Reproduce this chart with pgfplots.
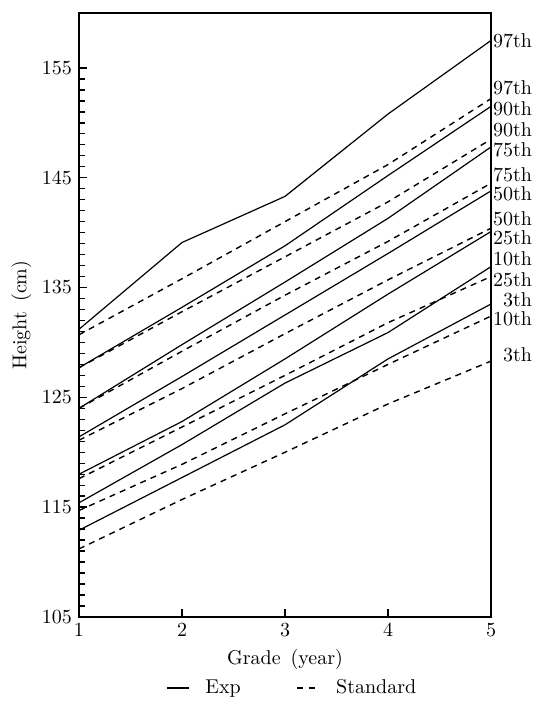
\documentclass[border=0pt]{standalone}
\usepackage{pgfplots}
\pgfplotsset{compat=1.18}

\pgfplotsset{
  exp/.style={black, line width=0.6pt, solid},
  std/.style={black, line width=0.7pt, dash pattern=on 3pt off 2.6pt},
}

\begin{document}
\begin{tikzpicture}
\useasboundingbox (-39.5pt,-42pt) rectangle (236pt,308.5pt);
\begin{axis}[
    width=206pt, height=302pt, scale only axis,
    xmin=1, xmax=5, ymin=105, ymax=160,
    xtick={1,2,3,4,5},
    ytick={105,115,125,135,145,155},
    minor y tick num=9,
    xtick pos=bottom, ytick pos=left,
    tick align=inside,
    major tick length=4pt, minor tick length=3pt,
    axis line style={line width=0.9pt},
    every tick/.style={black, line width=0.7pt},
    xlabel={Grade\enspace(year)},
    ylabel={Height\enspace(cm)},
    xlabel style={at={(axis description cs:0.5,-0.071)}, anchor=center},
    ylabel style={at={(axis description cs:-0.14,0.5)}, anchor=center},
    clip=false,
    legend columns=2,
    legend style={at={(axis description cs:0.52,-0.1175)}, anchor=center,
        draw=none, fill=none,
        /tikz/every even column/.append style={column sep=26pt}},
    legend image code/.code={\draw[#1] (0pt,0pt) -- (11pt,0pt); \path (17pt,0pt);},
]
% Exp (solid)
\addplot[exp] coordinates {(1,131.2) (2,139.1) (3,143.3) (4,150.8) (5,157.5)};
\addlegendentry{Exp}
% Standard (dashed)
\addplot[std] coordinates {(1,130.7) (2,135.8) (3,141.0) (4,146.2) (5,152.2)};
\addlegendentry{Standard}

\addplot[exp, forget plot] coordinates {(1,127.7) (2,133.2) (3,138.8) (4,145.2) (5,151.5)};
\addplot[exp, forget plot] coordinates {(1,124.0) (2,129.8) (3,135.5) (4,141.3) (5,147.8)};
\addplot[exp, forget plot] coordinates {(1,121.4) (2,126.9) (3,132.5) (4,138.1) (5,143.8)};
\addplot[exp, forget plot] coordinates {(1,118.0) (2,122.8) (3,128.5) (4,134.4) (5,140.1)};
\addplot[exp, forget plot] coordinates {(1,115.4) (2,120.7) (3,126.3) (4,130.9) (5,136.9)};
\addplot[exp, forget plot] coordinates {(1,112.9) (2,117.7) (3,122.5) (4,128.5) (5,133.5)};

\addplot[std, forget plot] coordinates {(1,127.7) (2,132.8) (3,137.8) (4,142.8) (5,148.5)};
\addplot[std, forget plot] coordinates {(1,124.0) (2,129.2) (3,134.3) (4,139.2) (5,144.5)};
\addplot[std, forget plot] coordinates {(1,121.1) (2,125.8) (3,130.8) (4,135.7) (5,140.4)};
\addplot[std, forget plot] coordinates {(1,117.6) (2,122.3) (3,127.0) (4,131.8) (5,136.0)};
\addplot[std, forget plot] coordinates {(1,114.7) (2,118.9) (3,123.5) (4,128.0) (5,132.4)};
\addplot[std, forget plot] coordinates {(1,111.2) (2,115.7) (3,120.0) (4,124.4) (5,128.3)};

% percentile labels on the right
\node[anchor=east] at ([xshift=24pt]axis cs:5,157.5) {97th};
\node[anchor=east] at ([xshift=24pt]axis cs:5,153.2) {97th};
\node[anchor=east] at ([xshift=24pt]axis cs:5,151.3) {90th};
\node[anchor=east] at ([xshift=24pt]axis cs:5,149.4) {90th};
\node[anchor=east] at ([xshift=24pt]axis cs:5,147.5) {75th};
\node[anchor=east] at ([xshift=24pt]axis cs:5,145.3) {75th};
\node[anchor=east] at ([xshift=24pt]axis cs:5,143.5) {50th};
\node[anchor=east] at ([xshift=24pt]axis cs:5,141.3) {50th};
\node[anchor=east] at ([xshift=24pt]axis cs:5,139.5) {25th};
\node[anchor=east] at ([xshift=24pt]axis cs:5,137.6) {10th};
\node[anchor=east] at ([xshift=24pt]axis cs:5,135.7) {25th};
\node[anchor=east] at ([xshift=24pt]axis cs:5,133.9) {3th};
\node[anchor=east] at ([xshift=24pt]axis cs:5,132.2) {10th};
\node[anchor=east] at ([xshift=24pt]axis cs:5,128.9) {3th};
\end{axis}
\end{tikzpicture}
\end{document}
